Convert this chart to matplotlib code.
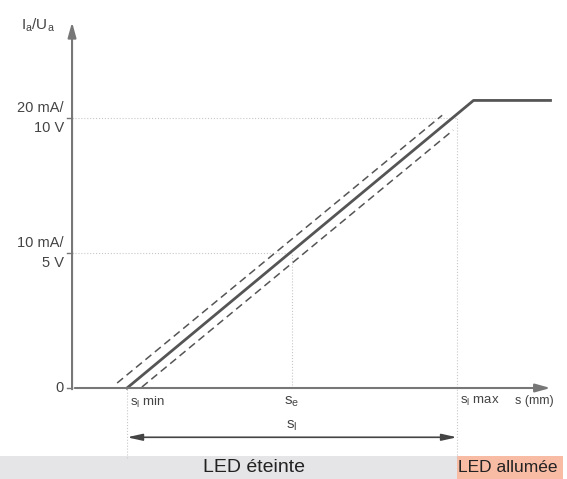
import matplotlib.pyplot as plt

# characteristic: output (mA) vs distance s (arbitrary units)
s_line = [1.0, 7.3, 8.7]
i_line = [0.0, 21.3, 21.3]
s_upper = [0.82, 6.73]
i_upper = [0.37, 20.2]
s_lower = [1.27, 6.93]
i_lower = [0.07, 19.1]

s_min, s_e, s_max = 1.0, 4.0, 7.0
y_ticks = [0, 10, 20]
y_labels = ["0", "10 mA/\n5 V", "20 mA/\n10 V"]

plt.rcParams['font.family'] = ['Liberation Sans', 'DejaVu Sans']

fig = plt.figure(figsize=(5.67, 4.79), dpi=100)
ax = fig.add_axes([0, 0, 1, 1])
ax.set_xlim(-1.31, 9.0)
ax.set_ylim(-6.74, 28.74)
ax.axis("off")

axis_col = "#777777"
txt_col = "#444444"

# axes with arrows
ax.annotate("", xy=(8.75, 0), xytext=(0, 0),
            arrowprops=dict(arrowstyle="-|>,head_length=0.9,head_width=0.25", color=axis_col, lw=1.5))
ax.annotate("", xy=(0, 27.3), xytext=(0, -0.3),
            arrowprops=dict(arrowstyle="-|>,head_length=0.9,head_width=0.25", color=axis_col, lw=1.5))

# guide lines
dot = dict(ls=":", color="#c8c8c8", lw=0.8)
ax.plot([0, s_max], [20, 20], **dot)
ax.plot([0, s_e], [10, 10], **dot)
ax.plot([s_e, s_e], [0, 10], **dot)
ax.plot([s_max, s_max], [-5.2, 20], **dot)
ax.plot([s_min, s_min], [-5.2, 0], **dot)

# curves
ax.plot(s_line, i_line, color="#555555", lw=2.0)
ax.plot(s_upper, i_upper, color="#555555", lw=1.1, ls=(0, (5, 3)))
ax.plot(s_lower, i_lower, color="#555555", lw=1.1, ls=(0, (5, 3)))

# y labels
for y, lab in zip(y_ticks, y_labels):
    ax.plot([-0.1, 0], [y, y], color=axis_col, lw=1)
    ax.text(-0.15, y, lab, ha="right", va="center", fontsize=10.5, color=txt_col,
            linespacing=1.5)
ax.text(-0.3, 26.9, r"$\mathregular{I_a/U_a}$", ha="right", va="center", fontsize=11, color=txt_col)

# x labels
ax.text(s_min + 0.05, -0.5, r"$\mathregular{s_l}$ min", ha="left", va="top", fontsize=9.5, color=txt_col)
ax.text(s_e, -0.5, r"$\mathregular{s_e}$", ha="center", va="top", fontsize=11, color=txt_col)
ax.text(s_max + 0.05, -0.5, r"$\mathregular{s_l}$ max", ha="left", va="top", fontsize=9.5, color=txt_col)
ax.text(8.05, -0.5, "s (mm)", ha="left", va="top", fontsize=9, color=txt_col)

# dimension arrow
ax.annotate("", xy=(s_max, -3.65), xytext=(s_min, -3.65),
            arrowprops=dict(arrowstyle="<|-|>,head_length=0.9,head_width=0.2", color="#444444", lw=1.2,
                            shrinkA=0, shrinkB=0))
ax.text((s_min + s_max) / 2, -3.3, r"$\mathregular{s_l}$", ha="center", va="bottom", fontsize=11, color=txt_col)

# LED bands
ax.axhspan(-6.74, -5.05, xmin=0, xmax=(s_max + 1.31) / 10.31, color="#e5e5e7", lw=0)
ax.axhspan(-6.74, -5.05, xmin=(s_max + 1.31) / 10.31, xmax=(8.92 + 1.31) / 10.31, color="#f8bba4", lw=0)
ax.text(3.3, -5.9, "LED éteinte", ha="center", va="center", fontsize=14, color="#222222")
ax.text(7.93, -5.9, "LED allumée", ha="center", va="center", fontsize=12.5, color="#222222")

fig.savefig("out.png", dpi=100)
